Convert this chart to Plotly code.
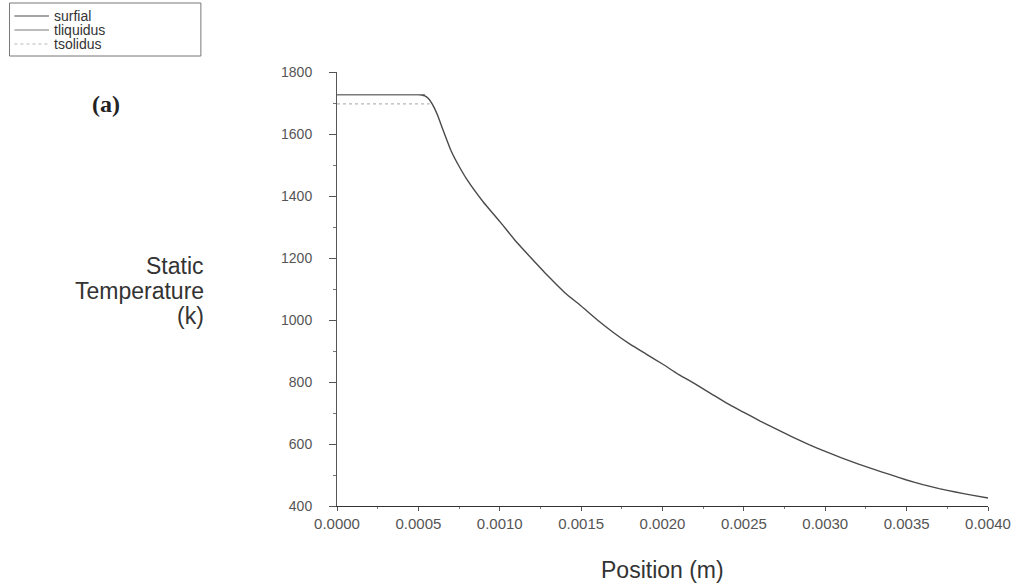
import plotly.graph_objects as go

# Surface temperature profile along the track
position = [0.0, 0.0001, 0.0002, 0.0003, 0.0004, 0.0005, 0.00052, 0.00054, 0.00056,
            0.00058, 0.0006, 0.00062, 0.00065, 0.0007, 0.00075, 0.0008, 0.0009, 0.0010,
            0.0011, 0.0012, 0.0013, 0.0014, 0.0015, 0.0016, 0.0017, 0.0018, 0.0019,
            0.0020, 0.0021, 0.0022, 0.0023, 0.0024, 0.0025, 0.0026, 0.0027, 0.0028,
            0.0029, 0.0030, 0.0031, 0.0032, 0.0033, 0.0034, 0.0035, 0.0036, 0.0037,
            0.0038, 0.0039, 0.0040]
surfial = [1727, 1727, 1727, 1727, 1727, 1727, 1726, 1723, 1715,
           1701, 1682, 1658, 1615, 1547, 1496, 1452, 1380, 1318,
           1253, 1196, 1140, 1088, 1045, 1000, 959, 922, 890,
           858, 824, 794, 762, 730, 702, 674, 648, 622,
           598, 576, 555, 536, 518, 501, 484, 469, 456,
           445, 435, 426]

# Liquidus / solidus reference lines over the molten zone
liq_x = [0.0, 0.00054]
liq_t = [1727, 1727]
sol_x = [0.0, 0.00057]
sol_t = [1697, 1697]

series_names = ["surfial", "tliquidus", "tsolidus"]
series_colors = ["#4a4a4a", "#7a7a7a", "#b8b8b8"]
series_dash = ["solid", "solid", "dot"]

y_ticks = [400, 600, 800, 1000, 1200, 1400, 1600, 1800]
x_ticks = [0.0, 0.0005, 0.0010, 0.0015, 0.0020, 0.0025, 0.0030, 0.0035, 0.0040]
x_tick_text = ["0.0000", "0.0005", "0.0010", "0.0015", "0.0020",
               "0.0025", "0.0030", "0.0035", "0.0040"]

W, H = 1023, 587
ML, MR, MT, MB = 337, 26, 72, 81
PW, PH = W - ML - MR, H - MT - MB


def px(x):
    """Horizontal pixel -> paper coordinate."""
    return (x - ML) / PW


def py(y):
    """Vertical pixel -> paper coordinate."""
    return 1 - (y - MT) / PH


sans = "Liberation Sans, Arial, sans-serif"

fig = go.Figure()
fig.add_trace(go.Scatter(x=position, y=surfial, mode="lines", name=series_names[0],
                         line=dict(color=series_colors[0], width=1.4, shape="spline", smoothing=0.4)))
fig.add_trace(go.Scatter(x=liq_x, y=liq_t, mode="lines", name=series_names[1],
                         line=dict(color=series_colors[1], width=1.2)))
fig.add_trace(go.Scatter(x=sol_x, y=sol_t, mode="lines", name=series_names[2],
                         line=dict(color=series_colors[2], width=1.2, dash=series_dash[2])))

# Legend box drawn in the top-left corner
shapes = [dict(type="rect", xref="paper", yref="paper",
               x0=px(5), x1=px(199), y0=py(3), y1=py(56),
               line=dict(color="#777777", width=1), fillcolor="white")]
annotations = []
for i, (name, col, dash) in enumerate(zip(series_names, series_colors, series_dash)):
    yy = 16 + 14 * i
    shapes.append(dict(type="line", xref="paper", yref="paper",
                       x0=px(10), x1=px(45), y0=py(yy), y1=py(yy),
                       line=dict(color=col, width=1.2, dash=dash)))
    annotations.append(dict(text=name, x=px(48), y=py(yy), xref="paper", yref="paper",
                            xanchor="left", yanchor="middle", showarrow=False,
                            font=dict(family=sans, size=14, color="#333333")))

# Y-axis title, one line per annotation for tight line spacing
for text, yy in zip(["Static", "Temperature", "(k)"], [266, 291, 316]):
    annotations.append(dict(text=text, x=px(204), y=py(yy), xref="paper", yref="paper",
                            xanchor="right", yanchor="middle", showarrow=False,
                            font=dict(family=sans, size=23, color="#333333")))

annotations.append(dict(text="Position (m)", x=0.5, y=py(570), xref="paper", yref="paper",
                        xanchor="center", yanchor="middle", showarrow=False,
                        font=dict(family=sans, size=23, color="#333333")))
annotations.append(dict(text="<b>(a)</b>", x=px(103), y=py(104), xref="paper", yref="paper",
                        xanchor="center", yanchor="middle", showarrow=False,
                        font=dict(family="Liberation Serif, Times New Roman, serif",
                                  size=24, color="#222222")))

fig.update_layout(
    width=W, height=H,
    margin=dict(l=ML, r=MR, t=MT, b=MB),
    paper_bgcolor="white", plot_bgcolor="white",
    font=dict(family=sans, color="#333333"),
    showlegend=False,
    xaxis=dict(range=[0, 0.004], tickvals=x_ticks, ticktext=x_tick_text,
               showgrid=False, zeroline=False, showline=True, linecolor="#333333",
               linewidth=1.2, ticks="outside", ticklen=4, tickcolor="#555555",
               tickfont=dict(size=15, color="#555555"),
               minor=dict(dtick=0.00025, ticks="outside", ticklen=2, tickcolor="#777777")),
    yaxis=dict(range=[400, 1800], tickvals=y_ticks,
               showgrid=False, zeroline=False, showline=True, linecolor="#555555",
               linewidth=1, ticks="outside", ticklen=7, tickcolor="#555555",
               ticklabelstandoff=14,
               tickfont=dict(size=14, color="#555555"),
               minor=dict(dtick=100, ticks="outside", ticklen=3, tickcolor="#777777")),
    shapes=shapes,
    annotations=annotations,
)

fig.write_html("out.html")
